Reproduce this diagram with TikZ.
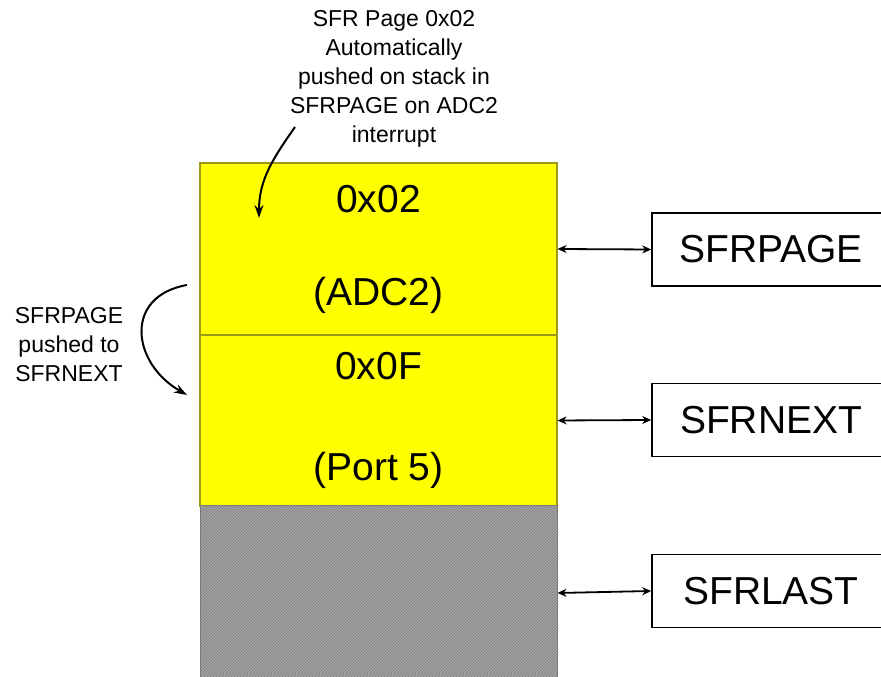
\documentclass[tikz,border=0pt]{standalone}
\usepackage{fontspec}
\setmainfont{Liberation Sans}
\usepackage{xcolor}
\usetikzlibrary{arrows.meta,positioning,patterns}
\definecolor{stackyel}{HTML}{FFFF00}
\definecolor{stackedge}{HTML}{9A9A18}
\definecolor{emptygray}{HTML}{A6A6A6}
\definecolor{hatchgray}{HTML}{7A7A7A}
\tikzset{
  cell/.style={draw=stackedge,fill=stackyel,line width=1.2pt,inner sep=0pt,
               minimum width=357pt,align=center},
  emptycell/.style={draw=hatchgray,fill=emptygray,line width=1pt,inner sep=0pt,
                    minimum width=357pt,
                    postaction={pattern=north east lines,pattern color=hatchgray}},
  regbox/.style={draw=black,fill=white,line width=1.6pt,inner sep=0pt,
                 minimum width=238pt,minimum height=73pt,
                 font=\fontsize{39}{44}\selectfont},
  note/.style={align=center,inner sep=0pt,font=\fontsize{23}{29}\selectfont},
  link/.style={{Stealth[length=9pt,width=8pt]}-{Stealth[length=9pt,width=8pt]},
               line width=1.8pt},
  curvearr/.style={-{Stealth[length=13pt,width=9pt]},line width=2pt}
}
\begin{document}
\begin{tikzpicture}[x=1pt,y=1pt]
    \useasboundingbox (0,0) rectangle (881,677);
    % stack of SFR pages
    \node[cell,minimum height=172pt,font=\fontsize{39}{93}\selectfont] (adc) at (378.5,428)
      {0x02\\(ADC2)};
    \node[cell,minimum height=171pt,font=\fontsize{39}{101}\selectfont] (port) at (378.5,256.5)
      {0x0F\\(Port 5)};
    \node[emptycell,minimum height=174pt] (free) at (378.5,84) {};
    % registers
    \node[regbox] (page) at (771,427.5) {SFRPAGE};
    \node[regbox] (next) at (771,257) {SFRNEXT};
    \node[regbox] (last) at (771,86) {SFRLAST};
    \draw[link] (adc.east) -- (page.west);
    \draw[link] (port.east) -- (next.west);
    \draw[link] (free.east) -- (last.west);
    % notes
    \node[note] (topnote) at (394,598)
      {SFR Page 0x02\\Automatically\\pushed on stack in\\SFRPAGE on ADC2\\interrupt};
    \node[note] (leftnote) at (69,332) {SFRPAGE\\pushed to\\SFRNEXT};
    \coordinate (ta) at (295,550);
    \coordinate (tb) at (259,459);
    \draw[curvearr] (ta) to[out=235,in=90] (tb);
    \coordinate (la) at (187,392);
    \coordinate (lb) at (187,282);
    \draw[curvearr] (la) to[out=190,in=150,looseness=1.5] (lb);
  \end{tikzpicture}
\end{document}
